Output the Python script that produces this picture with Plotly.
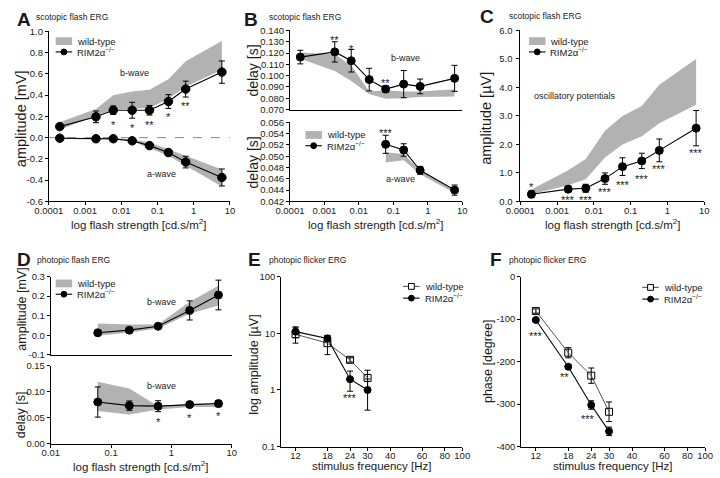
import numpy as np
import plotly.graph_objects as go

W, H = 720, 478
FONT = "Arial, Liberation Sans, sans-serif"
GRAY = "rgb(178,178,178)"
TXT = "#1a1a1a"

# ---------------- data ----------------
# scotopic flash strengths (cd.s/m2)
flash_scot = [0.0002, 0.002, 0.006, 0.02, 0.06, 0.2, 0.6, 6]
# A: b-wave amplitude (mV)
A_b_rim = [0.104, 0.196, 0.258, 0.258, 0.258, 0.340, 0.457, 0.617]
A_b_rim_err = [0.02, 0.055, 0.04, 0.075, 0.045, 0.065, 0.075, 0.105]
A_b_wt_hi = [0.144, 0.27, 0.40, 0.435, 0.45, 0.55, 0.72, 0.91]
A_b_wt_lo = [0.074, 0.205, 0.264, 0.273, 0.28, 0.365, 0.478, 0.64]
# A: a-wave amplitude (mV)
A_a_rim = [-0.005, -0.01, -0.01, -0.03, -0.075, -0.14, -0.23, -0.375]
A_a_rim_err = [0.01, 0.012, 0.012, 0.01, 0.02, 0.03, 0.055, 0.08]
A_a_wt_hi = [0.0, -0.004, -0.005, -0.015, -0.045, -0.11, -0.17, -0.30]
A_a_wt_lo = [-0.01, -0.02, -0.02, -0.035, -0.10, -0.17, -0.265, -0.46]
A_stars_x = [0.006, 0.02, 0.06, 0.2, 0.6]
A_stars_y = [0.15, 0.12, 0.15, 0.22, 0.33]
A_stars = ["*", "*", "**", "*", "**"]

# B: b-wave delay (s)
B_b_rim = [0.1164, 0.121, 0.1132, 0.0965, 0.0881, 0.0925, 0.0905, 0.0976]
B_b_rim_err = [0.006, 0.009, 0.010, 0.010, 0.003, 0.012, 0.0065, 0.0115]
B_b_wt_hi = [0.1204, 0.119, 0.109, 0.086, 0.087, 0.086, 0.086, 0.088]
B_b_wt_lo = [0.1150, 0.104, 0.0953, 0.0838, 0.0795, 0.080, 0.081, 0.0815]
B_b_stars_x = [0.002, 0.006, 0.06]
B_b_stars_y = [0.1342, 0.1265, 0.0959]
B_b_stars = ["**", "*", "**"]
# B: a-wave delay (s)
flash_scot_a = [0.06, 0.2, 0.6, 6]
B_a_rim = [0.0521, 0.0511, 0.0475, 0.0440]
B_a_rim_err = [0.0016, 0.0011, 0.0007, 0.0009]
B_a_wt_hi = [0.0507, 0.0504, 0.0475, 0.0439]
B_a_wt_lo = [0.0489, 0.0493, 0.0468, 0.0435]
B_a_stars_x = [0.06]
B_a_stars_y = [0.0546]
B_a_stars = ["***"]

# C: oscillatory potentials (uV)
C_rim = [0.25, 0.43, 0.46, 0.80, 1.22, 1.42, 1.79, 2.57]
C_rim_err = [0.12, 0.11, 0.14, 0.20, 0.31, 0.27, 0.40, 0.62]
C_wt_hi = [0.42, 1.09, 1.49, 2.48, 3.0, 3.35, 4.09, 5.0]
C_wt_lo = [0.25, 0.57, 0.78, 1.54, 2.0, 2.29, 2.74, 3.39]
C_stars_x = [0.0002, 0.002, 0.006, 0.02, 0.06, 0.2, 0.6, 6]
C_stars_y = [0.60, 0.14, 0.16, 0.43, 0.69, 0.89, 1.23, 1.80]
C_stars = ["*", "***", "***", "***", "***", "***", "***", "***"]

# D: photopic flash
flash_phot = [0.06, 0.2, 0.6, 2, 6]
D_amp_rim = [0.0126, 0.026, 0.046, 0.127, 0.206]
D_amp_rim_err = [0.005, 0.005, 0.008, 0.049, 0.076]
D_amp_wt_hi = [0.06, 0.055, 0.055, 0.172, 0.253]
D_amp_wt_lo = [-0.002, 0.014, 0.034, 0.11, 0.152]
D_del_rim = [0.080, 0.073, 0.072, 0.075, 0.077]
D_del_rim_err = [0.029, 0.009, 0.0105, 0.003, 0.006]
D_del_wt_hi = [0.119, 0.106, 0.072, 0.077, 0.078]
D_del_wt_lo = [0.0625, 0.056, 0.0656, 0.0706, 0.0706]
D_stars_x = [0.6, 2, 6]
D_stars_y = [0.048, 0.056, 0.059]
D_stars = ["*", "*", "*"]

# E/F: photopic flicker
freq = [12, 18, 24, 30]
E_wt = [9.6, 6.7, 3.4, 1.63]
E_wt_err = [2.9, 2.5, 0.3, 0.6]
E_rim = [10.7, 8.1, 1.55, 1.0]
E_rim_err = [2.3, 1.0, 0.6, 0.56]
E_stars_x = [24]
E_stars_y = [0.8]
E_stars = ["***"]
F_wt = [-81, -179, -233, -318]
F_wt_err = [5, 12, 18, 23]
F_rim = [-102, -212, -302, -364]
F_rim_err = [5, 4, 10, 10]
F_stars_x = [12, 17.2, 23.1]
F_stars_y = [-133, -229, -327]
F_stars = ["***", "**", "***"]

# tick labels
flash_ticks = [0.0001, 0.001, 0.01, 0.1, 1, 10]
flash_ticktext = ["0.0001", "0.001", "0.01", "0.1", "1", "10"]
phot_ticks = [0.01, 0.1, 1, 10]
phot_ticktext = ["0.01", "0.1", "1", "10"]
freq_ticks = [12, 18, 24, 30, 40, 60, 80, 100]
A_yticks = [-0.6, -0.4, -0.2, 0.0, 0.2, 0.4, 0.6, 0.8, 1.0]
A_yticktext = ["-0.6", "-0.4", "-0.2", "0.0", "0.2", "0.4", "0.6", "0.8", "1.0"]
D_yticks = [-0.1, 0.0, 0.1, 0.2, 0.3]
D_yticktext = ["-0.1", "0.0", "0.1", "0.2", "0.3"]
E_yticks = [0.1, 1, 10, 100]
E_yticktext = ["0.1", "1", "10", "100"]
F_yticks = [-400, -300, -200, -100, 0]
F_yticktext = ["-400", "-300", "-200", "-100", "0"]

WT_NAME = "wild-type"
RIM_NAME = "RIM2α<sup>−/−</sup>"

# ---------------- layout helpers ----------------
def px_x(a, b):
    return [a / W, b / W]

def px_y(top, bottom):
    return [1 - bottom / H, 1 - top / H]

fig = go.Figure()

def band(x, hi, lo, xa, ya):
    fig.add_trace(go.Scatter(
        x=list(x) + list(x)[::-1], y=list(hi) + list(lo)[::-1],
        fill="toself", fillcolor=GRAY, mode="lines", line=dict(width=0, color=GRAY),
        name=WT_NAME, showlegend=False, xaxis=xa, yaxis=ya, hoverinfo="skip"))

def series(x, y, err, xa, ya, name=RIM_NAME, symbol="circle",
           size=8, lcolor="black", lw=1.1):
    fig.add_trace(go.Scatter(
        x=x, y=y, mode="lines+markers", name=name,
        line=dict(color=lcolor, width=lw),
        marker=dict(symbol=symbol, size=size, color="black",
                    line=dict(color="black", width=1)),
        error_y=dict(type="data", array=err, visible=True, color="black",
                     thickness=1, width=3),
        showlegend=False, xaxis=xa, yaxis=ya))

# A
band(flash_scot, A_b_wt_hi, A_b_wt_lo, "x", "y")
band(flash_scot, A_a_wt_hi, A_a_wt_lo, "x", "y")
series(flash_scot, A_b_rim, A_b_rim_err, "x", "y", size=8.5)
series(flash_scot, A_a_rim, A_a_rim_err, "x", "y", size=8.5)
# B top
band(flash_scot, B_b_wt_hi, B_b_wt_lo, "x2", "y2")
series(flash_scot, B_b_rim, B_b_rim_err, "x2", "y2")
# B bottom
band(flash_scot_a, B_a_wt_hi, B_a_wt_lo, "x3", "y3")
series(flash_scot_a, B_a_rim, B_a_rim_err, "x3", "y3")
# C
band(flash_scot, C_wt_hi, C_wt_lo, "x4", "y4")
series(flash_scot, C_rim, C_rim_err, "x4", "y4")
# D
band(flash_phot, D_amp_wt_hi, D_amp_wt_lo, "x5", "y5")
series(flash_phot, D_amp_rim, D_amp_rim_err, "x5", "y5")
band(flash_phot, D_del_wt_hi, D_del_wt_lo, "x6", "y6")
series(flash_phot, D_del_rim, D_del_rim_err, "x6", "y6")
# E
series(freq, E_wt, E_wt_err, "x7", "y7", name=WT_NAME,
       symbol="square-open", size=7, lcolor="#555", lw=1)
series(freq, E_rim, E_rim_err, "x7", "y7", size=7)
# F
series(freq, F_wt, F_wt_err, "x8", "y8", name=WT_NAME,
       symbol="square-open", size=7, lcolor="#555", lw=1)
series(freq, F_rim, F_rim_err, "x8", "y8", size=7)

axis_common = dict(showline=True, linecolor="black", linewidth=1, ticks="outside",
                   ticklen=3, tickwidth=1, tickcolor="black", showgrid=False,
                   zeroline=False, tickfont=dict(size=9.5, color=TXT, family=FONT))

def xa(dom, anchor, **kw):
    d = dict(axis_common); d.update(domain=dom, anchor=anchor); d.update(kw); return d

XS = dict(ticklabelstandoff=-3)

layout = dict(
    width=W, height=H, margin=dict(l=0, r=0, t=0, b=0),
    paper_bgcolor="white", plot_bgcolor="white",
    font=dict(family=FONT, color=TXT),
    showlegend=False,
    xaxis=xa(px_x(35, 222), "y", type="log", range=[-4, 1], tickvals=flash_ticks, ticktext=flash_ticktext, **XS),
    yaxis=xa(px_y(26, 200), "x", range=[-0.6, 1.0], tickvals=A_yticks, ticktext=A_yticktext),
    xaxis2=xa(px_x(284, 462), "y2", type="log", range=[-4, 1], showticklabels=False, ticks=""),
    yaxis2=xa(px_y(25, 106), "x2", range=[0.07, 0.14], dtick=0.01, tickformat=".3f"),
    xaxis3=xa(px_x(284, 462), "y3", type="log", range=[-4, 1], tickvals=flash_ticks, ticktext=flash_ticktext, **XS),
    yaxis3=xa(px_y(119, 200), "x3", range=[0.042, 0.056], dtick=0.002, tickformat=".3f"),
    xaxis4=xa(px_x(522, 712), "y4", type="log", range=[-4, 1], tickvals=flash_ticks, ticktext=flash_ticktext, **XS),
    yaxis4=xa(px_y(25, 200), "x4", range=[0, 6], dtick=1, tickformat=".1f", ticklabelstandoff=2),
    xaxis5=xa(px_x(37, 224), "y5", type="log", range=[-2, 1], showticklabels=False, ticks=""),
    yaxis5=xa(px_y(277, 357), "x5", range=[-0.1, 0.3], tickvals=D_yticks, ticktext=D_yticktext),
    xaxis6=xa(px_x(37, 224), "y6", type="log", range=[-2, 1], tickvals=phot_ticks, ticktext=phot_ticktext, **XS),
    yaxis6=xa(px_y(368, 448), "x6", range=[0, 0.15], dtick=0.05, tickformat=".2f"),
    xaxis7=xa(px_x(275, 462), "y7", type="log", range=[1, 2], tickvals=freq_ticks, **XS),
    yaxis7=xa(px_y(277, 451), "x7", type="log", range=[-1, 2], tickvals=E_yticks, ticktext=E_yticktext),
    xaxis8=xa(px_x(523, 713), "y8", type="log", range=[1, 2], tickvals=freq_ticks, **XS),
    yaxis8=xa(px_y(277, 451), "x8", range=[-400, 0], tickvals=F_yticks, ticktext=F_yticktext),
)
fig.update_layout(**layout)

ann = []
shapes = []
def text(x, y, s, size=9, xref="paper", yref="paper", **kw):
    d = dict(x=x, y=y, text=s, xref=xref, yref=yref, showarrow=False,
             xanchor="center", yanchor="middle",
             font=dict(size=size, color=TXT, family=FONT))
    d.update(kw)
    ann.append(d)

def ptext(xp, yp, s, size=9, **kw):
    text(xp / W, 1 - yp / H, s, size=size, **kw)

# ---- legend keys (drawn in pixel positions) ----
def pshape(kind, x0, y0, x1, y1, **kw):
    d = dict(type=kind, xref="paper", yref="paper", x0=x0 / W, x1=x1 / W,
             y0=1 - y0 / H, y1=1 - y1 / H, layer="above")
    d.update(kw)
    shapes.append(d)

def key_band(x, y):
    pshape("rect", x, y - 4, x + 17, y + 4, fillcolor=GRAY, line=dict(width=0))
    ptext(x + 20, y, WT_NAME, size=9.5, xanchor="left")

def key_line(x, y, name, open_square=False, lcolor="black"):
    pshape("line", x, y, x + 17, y, line=dict(color=lcolor, width=1.1))
    cx = x + 8.5
    if open_square:
        pshape("rect", cx - 3, y - 3, cx + 3, y + 3, fillcolor="white",
               line=dict(color="black", width=1))
    else:
        pshape("circle", cx - 3, y - 3, cx + 3, y + 3, fillcolor="black",
               line=dict(color="black", width=1))
    ptext(x + 20, y, name, size=9.5, xanchor="left")

key_band(42, 36); key_line(42, 47, RIM_NAME)
key_band(300, 132); key_line(300, 143, RIM_NAME)
key_band(531, 36); key_line(531, 47, RIM_NAME)
key_band(42, 284); key_line(42, 295, RIM_NAME)
key_line(401, 287, WT_NAME, open_square=True, lcolor="#555"); key_line(401, 299, RIM_NAME)
key_line(648, 288, WT_NAME, open_square=True, lcolor="#555"); key_line(648, 300, RIM_NAME)

# panel letters and subtitles
letters = [("A", 9, 14), ("B", 244, 14), ("C", 488, 11), ("D", 9, 259), ("E", 247, 259), ("F", 497, 259)]
for L, x, y in letters:
    ptext(x, y, "<b>" + L + "</b>", size=19)
subs = [("scotopic flash ERG", 20, 11), ("scotopic flash ERG", 260, 11), ("scotopic flash ERG", 508, 10),
        ("photopic flash ERG", 21, 260), ("photopic flicker ERG", 260, 260), ("photopic flicker ERG", 508, 260)]
for s, x, y in subs:
    ptext(x, y, s, size=8.5, xanchor="left")

# axis titles
XT = "log flash strength [cd.s/m<sup>2</sup>]"
ptext(128, 223, XT, size=11.5)
ptext(373, 223, XT, size=11.5)
ptext(618, 223, XT, size=11.5)
ptext(130, 471, XT, size=11.5)
ptext(369, 471, "stimulus frequency [Hz]", size=11.5)
ptext(618, 471, "stimulus frequency [Hz]", size=11.5)
ptext(7, 115, "amplitude [mV]", size=14.5, textangle=-90)
ptext(246, 66, "delay [s]", size=14, textangle=-90)
ptext(246, 160, "delay [s]", size=14, textangle=-90)
ptext(487, 115, "amplitude [µV]", size=14.5, textangle=-90)
ptext(7, 310, "amplitude [mV]", size=12.5, textangle=-90)
ptext(7, 418, "delay [s]", size=12.5, textangle=-90)
ptext(246, 367, "log amplitude [µV]", size=12.5, textangle=-90)
ptext(488, 364, "phase [degree]", size=12.5, textangle=-90)

# in-plot labels (data coords)
text(np.log10(0.023), 0.61, "b-wave", xref="x", yref="y")
text(np.log10(0.13), -0.34, "a-wave", xref="x", yref="y")
text(np.log10(0.23), 0.116, "b-wave", xref="x2", yref="y2")
text(np.log10(0.16), 0.046, "a-wave", xref="x3", yref="y3")
text(np.log10(0.003), 3.71, "oscillatory potentials", xref="x4", yref="y4")
text(np.log10(0.69), 0.169, "b-wave", xref="x5", yref="y5")
text(np.log10(0.69), 0.111, "b-wave", xref="x6", yref="y6")

def stars(xs, ys, ss, xr, yr, logy=False):
    for x, y, s in zip(xs, ys, ss):
        text(np.log10(x), np.log10(y) if logy else y, s, size=11, xref=xr, yref=yr, yshift=-3)

stars(A_stars_x, A_stars_y, A_stars, "x", "y")
stars(B_b_stars_x, B_b_stars_y, B_b_stars, "x2", "y2")
stars(B_a_stars_x, B_a_stars_y, B_a_stars, "x3", "y3")
stars(C_stars_x, C_stars_y, C_stars, "x4", "y4")
stars(D_stars_x, D_stars_y, D_stars, "x6", "y6")
stars(E_stars_x, E_stars_y, E_stars, "x7", "y7", logy=True)
stars(F_stars_x, F_stars_y, F_stars, "x8", "y8")

# dashed zero line in A
shapes.append(dict(type="line", xref="x domain", yref="y", x0=0, x1=1, y0=0, y1=0,
                   line=dict(color="#888", width=1, dash="dash"), layer="below"))

fig.update_layout(annotations=ann, shapes=shapes)

fig.write_html("out.html", config={"displayModeBar": False},
               post_script="document.body.style.margin='0px';")
